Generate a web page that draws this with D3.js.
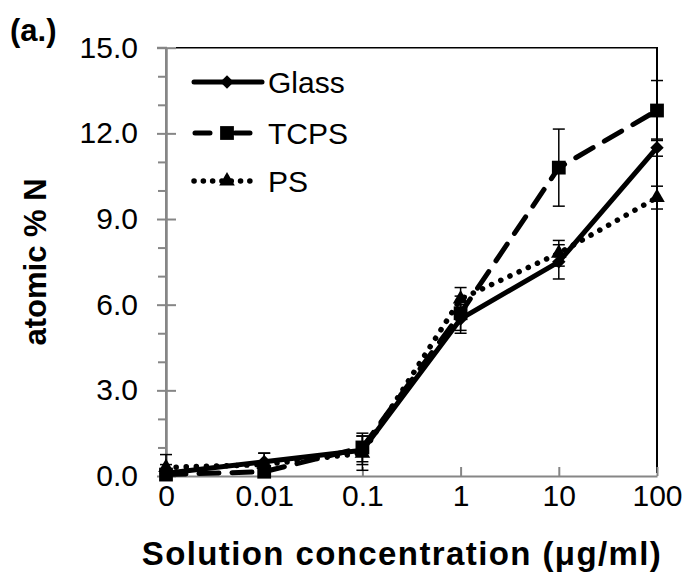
<!DOCTYPE html>
<html>
<head>
<meta charset="utf-8">
<script src="https://cdn.jsdelivr.net/npm/d3@7"></script>
<style>
  body { margin: 0; background: #fff; }
  text { font-family: "Liberation Sans", Arial, sans-serif; }
</style>
</head>
<body>
<div id="chart"></div>
<script>
// categories (solution concentration, ug/ml)
var concentrations = ["0", "0.01", "0.1", "1", "10", "100"];

// atomic % N values and error bars
var glass = [0.1, 0.5, 0.9, 5.5, 7.5, 11.5];
var glassErr = [0.3, 0.3, 0.5, 0.5, 0.6, 0.3];
var tcps = [0.05, 0.15, 1.0, 5.7, 10.8, 12.8];
var tcpsErr = [0.1, 0.2, 0.5, 0.6, 1.35, 1.05];
var ps = [0.3, 0.4, 0.8, 6.2, 7.8, 9.75];
var psErr = [0.45, 0.4, 0.6, 0.4, 0.45, 0.4];

var yMajor = [0, 3, 6, 9, 12, 15];
var yMinor = [1, 2, 4, 5, 7, 8, 10, 11, 13, 14];

var svgWidth = 687;
var svgHeight = 575;

var svg = d3.select("#chart")
  .append("svg")
  .attr("width", svgWidth)
  .attr("height", svgHeight);

var x = d3.scalePoint()
  .domain(concentrations)
  .range([166, 657])
  .padding(0);

var y = d3.scaleLinear()
  .domain([0, 15])
  .range([476, 47.7]);

var gray = "#868686";

// plot frame top/right (black)
svg.append("line")
  .attr("x1", 176).attr("x2", 658)
  .attr("y1", y(15)).attr("y2", y(15))
  .attr("stroke", "#000").attr("stroke-width", 1.5);
svg.append("line")
  .attr("x1", 657).attr("x2", 657)
  .attr("y1", y(15)).attr("y2", y(0) - 3)
  .attr("stroke", "#000").attr("stroke-width", 2);

// y axis
var yAxis = svg.append("g")
  .attr("transform", "translate(166,0)")
  .call(d3.axisLeft(y).tickValues(yMajor).tickFormat(d3.format(".1f")).tickSize(9).tickPadding(19));
svg.append("g")
  .attr("transform", "translate(166,0)")
  .call(d3.axisLeft(y).tickValues(yMinor).tickFormat("").tickSize(8).tickSizeOuter(0));
svg.append("g")
  .attr("transform", "translate(166,0)")
  .call(d3.axisRight(y).tickValues(yMajor).tickFormat("").tickSize(10).tickSizeOuter(0));

// x axis
svg.append("g")
  .attr("transform", "translate(0,476)")
  .call(d3.axisBottom(x).tickSizeInner(-9).tickSizeOuter(0).tickPadding(9));

svg.selectAll(".domain, .tick line")
  .attr("stroke", gray)
  .attr("stroke-width", 2);
svg.selectAll(".tick text")
  .attr("font-size", 30)
  .attr("fill", "#000")
  .style("font-family", "'Liberation Sans', Arial, sans-serif");
yAxis.select(".domain").attr("d", "M-9," + y(15) + "H0V" + y(0));

// series
var series = [
  { name: "Glass", values: glass, err: glassErr, dash: null, width: 5, marker: d3.symbolSquare, size: 90, rot: 45 },
  { name: "TCPS", values: tcps, err: tcpsErr, dash: "20,13", width: 5, marker: d3.symbolSquare, size: 190, rot: 0 },
  { name: "PS", values: ps, err: psErr, dash: "0.1,10", width: 5.5, marker: d3.symbolTriangle, size: 105, rot: 0 }
];

var line = d3.line()
  .x(function(d, i) { return x(concentrations[i]); })
  .y(function(d) { return y(d); });

series.forEach(function(s) {
  var path = svg.append("path")
    .datum(s.values)
    .attr("d", line)
    .attr("fill", "none")
    .attr("stroke", "#000")
    .attr("stroke-width", s.width)
    .attr("stroke-linecap", "round")
    .attr("stroke-linejoin", "round");
  if (s.dash) path.attr("stroke-dasharray", s.dash);
});

// error bars
series.forEach(function(s) {
  var g = svg.append("g");
  s.values.forEach(function(v, i) {
    var cx = x(concentrations[i]);
    var lo = Math.max(0, v - s.err[i]), hi = v + s.err[i];
    g.append("line").attr("x1", cx).attr("x2", cx).attr("y1", y(lo)).attr("y2", y(hi))
      .attr("stroke", "#000").attr("stroke-width", 1.5);
    [lo, hi].forEach(function(e) {
      if (e <= 0) return;
      g.append("line").attr("x1", cx - 6).attr("x2", cx + 6).attr("y1", y(e)).attr("y2", y(e))
        .attr("stroke", "#000").attr("stroke-width", 1.5);
    });
  });
});

// markers
series.forEach(function(s) {
  svg.append("g").selectAll("path")
    .data(s.values)
    .enter()
    .append("path")
    .attr("d", d3.symbol().type(s.marker).size(s.size))
    .attr("transform", function(d, i) {
      return "translate(" + x(concentrations[i]) + "," + y(d) + ") rotate(" + s.rot + ")";
    })
    .attr("fill", "#000");
});

// legend
var legendY = [82, 133, 181];
series.forEach(function(s, i) {
  var ly = legendY[i];
  var l = svg.append("line")
    .attr("x1", 194).attr("x2", 262)
    .attr("y1", ly).attr("y2", ly)
    .attr("stroke", "#000")
    .attr("stroke-width", s.width)
    .attr("stroke-linecap", "round");
  if (i === 1) l.attr("x1", 195).attr("x2", 250).attr("stroke-dasharray", "15,25");
  if (i === 2) l.attr("stroke-dasharray", "0.1,9.2").attr("x2", 258);
  svg.append("path")
    .attr("d", d3.symbol().type(s.marker).size(s.size))
    .attr("transform", "translate(227," + ly + ") rotate(" + s.rot + ")")
    .attr("fill", "#000");
  svg.append("text")
    .attr("x", 268)
    .attr("y", ly)
    .attr("dy", "0.36em")
    .attr("font-size", 30)
    .text(s.name);
});

// titles
svg.append("text")
  .attr("x", 10).attr("y", 41)
  .attr("font-size", 31).attr("font-weight", "bold")
  .text("(a.)");

svg.append("text")
  .attr("x", 402).attr("y", 565)
  .attr("text-anchor", "middle")
  .attr("font-size", 33).attr("font-weight", "bold")
  .attr("letter-spacing", 1.4)
  .text("Solution concentration (\u03bcg/ml)");

svg.append("text")
  .attr("transform", "translate(46,262) rotate(-90)")
  .attr("text-anchor", "middle")
  .attr("font-size", 31).attr("font-weight", "bold")
  .text("atomic % N");
</script>
</body>
</html>
